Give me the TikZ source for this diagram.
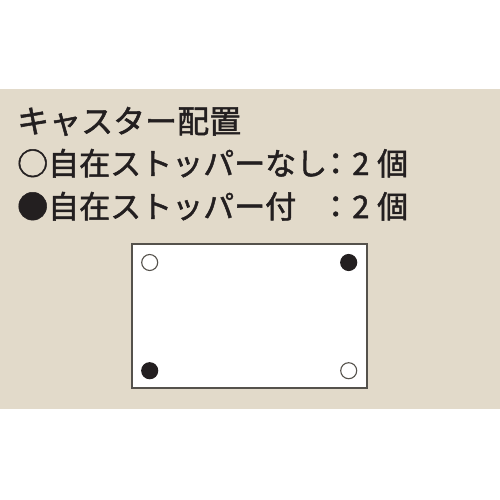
\documentclass[tikz,border=0pt]{standalone}
\usepackage{fontspec}
\newfontfamily\cjk[FakeBold=1.6]{Noto Sans CJK JP}
\definecolor{panel}{HTML}{E2DACA}
\definecolor{ink}{HTML}{231F20}
\definecolor{frame}{HTML}{55524C}
\begin{document}
\begin{tikzpicture}[x=1pt,y=-1pt,
  lbl/.style={anchor=base west,inner sep=0pt,font=\cjk\fontsize{31}{31}\selectfont,text=ink},
  opencaster/.style={circle,draw=frame,line width=1.1pt,fill=white,minimum size=16pt,inner sep=0pt},
  fullcaster/.style={circle,draw=ink,line width=1.1pt,fill=ink,minimum size=16pt,inner sep=0pt}]
\useasboundingbox (0,0) rectangle (500,500);
\fill[white] (0,0) rectangle (500,500);
\fill[panel] (0,89) rectangle (500,409);
\node[lbl,font=\cjk\fontsize{32}{32}\selectfont] (t1) at (17,133) {キャスター配置};
\node[lbl] (t2) at (17,175) {○自在ストッパーなし};
\node[lbl] (c2) at (320,175) {：};
\node[lbl] (n2) at (352,175) {2};
\node[lbl] (k2) at (377,175) {個};
\node[lbl] (t3) at (17,218) {●自在ストッパー付};
\node[lbl] (c3) at (320,218) {：};
\node[lbl] (n3) at (352,218) {2};
\node[lbl] (k3) at (377,218) {個};
\draw[frame,line width=1.4pt,fill=white] (132,244) rectangle (367,388);
\node[opencaster] (a) at (149.7,262.5) {};
\node[fullcaster] (b) at (348.7,262.5) {};
\node[fullcaster] (c) at (149.7,370.7) {};
\node[opencaster] (d) at (348.7,370.7) {};
\end{tikzpicture}
\end{document}
